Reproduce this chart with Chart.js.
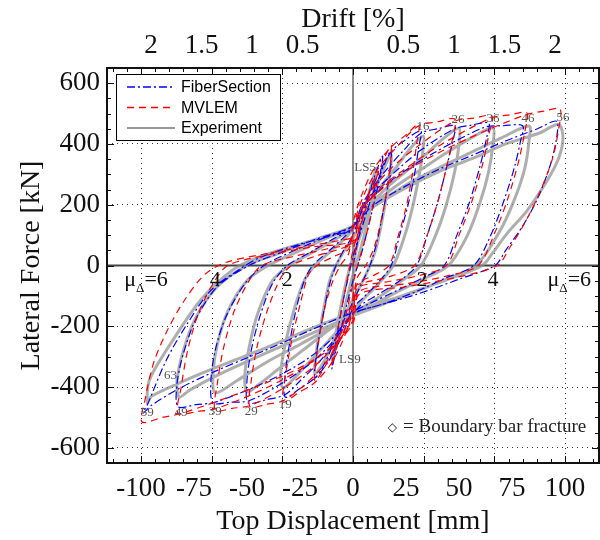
<!DOCTYPE html>
<html>
<head>
<meta charset="utf-8">
<script src="https://cdn.jsdelivr.net/npm/chart.js@4.4.0/dist/chart.umd.min.js"></script>
<style>
  html, body { margin: 0; padding: 0; background: #fff; }
</style>
</head>
<body>
<canvas id="hyst" width="600" height="540"></canvas>
<script>
// axis ticks
const dispTicks = [-100, -75, -50, -25, 0, 25, 50, 75, 100];
const forceTicks = [-600, -400, -200, 0, 200, 400, 600];
const driftTicks = [-2, -1.5, -1, -0.5, 0.5, 1, 1.5, 2];
const ductilityGrid = [-100, -66.7, -33.3, 33.3, 66.7, 100];
const mmPerDrift = 47.6;
const dispMin = -116, dispMax = 116;

// [displacement mm, force kN]
const experiment = [
  [0,0],[4,130],[8,250],[11,320],[9,220],[6,120],[3,40],[0,-30],[-4,-140],[-8,-260],[-10,-310],
  [-8,-220],[-5,-110],[-2,-20],[0,30],
  [4,110],[9,220],[14,310],[18,365],[17,280],[14,160],[11,60],[8,0],[4,-60],[0,-110],[-5,-180],
  [-10,-260],[-14,-320],[-18,-355],[-17,-270],[-14,-150],[-11,-50],[-8,0],[-4,50],[0,90],
  [5,160],[12,250],[20,320],[27,385],[33,426],[33,380],[31,290],[28,190],[24,90],[19,0],[12,-60],
  [5,-110],[0,-150],[-8,-220],[-17,-290],[-25,-350],[-33,-403],[-34,-350],[-32,-260],[-28,-150],
  [-23,-50],[-18,0],[-10,50],[-3,95],[0,120],
  [6,180],[15,250],[25,310],[35,370],[43,420],[50,452],[50,400],[48,310],[44,200],[39,100],[32,0],
  [22,-55],[12,-105],[3,-145],[-10,-205],[-22,-270],[-35,-340],[-45,-395],[-50,-416],[-51,-360],
  [-49,-270],[-45,-160],[-38,-50],[-30,0],[-20,40],[-10,80],[0,125],
  [8,190],[20,260],[33,320],[45,375],[57,425],[66,452],[66,400],[64,310],[60,210],[54,100],[45,0],
  [33,-45],[20,-90],[8,-135],[0,-165],[-12,-210],[-25,-260],[-40,-315],[-55,-380],[-65,-420],
  [-66,-360],[-64,-260],[-59,-150],[-50,-50],[-40,0],[-28,40],[-14,85],[0,130],
  [9,190],[25,265],[40,320],[55,370],[70,420],[83,459],[83,410],[81,320],[76,215],[69,110],[58,0],
  [44,-45],[30,-85],[15,-125],[0,-165],[-15,-210],[-30,-255],[-48,-310],[-65,-365],[-77,-410],
  [-82,-433],[-83,-380],[-80,-280],[-74,-170],[-64,-70],[-50,0],[-35,40],[-18,85],[0,130],
  [9,190],[25,256],[41,311],[57,354],[72,400],[88,436],[97,465],[99,420],[97,354],[91.5,279],
  [82,180],[72.6,105],[65.6,39],[61,0],[45,-45],[25,-95],[8,-135],[0,-155],[-19,-205],[-40,-268],
  [-64,-334],[-82,-387],[-95,-430],[-97,-452],[-96,-377],[-88,-279],[-72,-115],[-57,-16],
  [-45,26],[-25,70],[-2,115]
];

const fiberSection = [
  [0,0],[5,170],[10,290],[14,360],[12,270],[8,150],[4,40],[0,-50],[-4,-160],[-8,-280],[-10,-340],
  [-8,-250],[-5,-130],[-2,-30],[0,30],
  [4,120],[9,230],[14,320],[18,380],[17,290],[14,170],[11,70],[8,0],[4,-60],[0,-120],[-5,-190],
  [-10,-270],[-14,-330],[-18,-370],[-17,-280],[-14,-160],[-11,-60],[-8,0],[-4,55],[0,100],
  [5,200],[12,300],[18,375],[25,415],[32,443],[31,390],[29,300],[26,200],[22,100],[18,0],[12,-55],
  [5,-105],[0,-140],[-5,-230],[-12,-320],[-18,-370],[-25,-405],[-32,-433],[-32,-360],[-30,-260],
  [-27,-150],[-23,-50],[-19,0],[-11,50],[-4,95],[0,125],
  [5,210],[14,300],[24,380],[32,435],[40,450],[48,459],[47,410],[44,320],[40,210],[35,100],[30,0],
  [22,-50],[12,-95],[3,-135],[-6,-220],[-15,-310],[-25,-380],[-32,-425],[-41,-442],[-49.5,-452],
  [-50,-380],[-48,-280],[-44,-170],[-38,-60],[-31,0],[-21,40],[-10,85],[0,125],
  [6,210],[17,290],[32,380],[48,450],[56,462],[64,469],[63,420],[60,330],[55,210],[49,100],[43,0],
  [33,-40],[20,-85],[8,-125],[0,-155],[-7,-230],[-18,-310],[-33,-385],[-49,-445],[-58,-450],
  [-66,-452],[-67,-380],[-65,-280],[-60,-170],[-51,-60],[-42,0],[-29,45],[-14,90],[0,130],
  [7,210],[20,290],[38,370],[62,455],[71,460],[80,460],[79,410],[76,320],[71,210],[65,100],[57,0],
  [44,-40],[30,-85],[15,-125],[0,-160],[-9,-235],[-22,-310],[-40,-380],[-65,-450],[-74,-458],
  [-82.5,-465],[-83,-390],[-80,-290],[-74,-175],[-64,-70],[-49,0],[-35,40],[-18,85],[0,130],
  [9,195],[25,262],[41,318],[57,365],[72,410],[87,450],[96,475],[96,420],[93,330],[87,220],
  [80,130],[72,50],[67,0],[50,-45],[30,-95],[10,-135],[0,-155],[-19,-210],[-40,-275],
  [-64,-345],[-82,-405],[-95,-460],[-99,-486],[-97,-459],[-88,-311],[-78,-190],[-67,-82],
  [-53,-10],[-44,26],[-25,70],[0,115]
];

const mvlem = [
  [0,0],[3,120],[7,230],[12,311],[10,220],[7,120],[3,20],[0,-60],[-3,-150],[-7,-250],[-10,-330],
  [-8,-240],[-5,-130],[-2,-20],[0,50],
  [4,140],[9,250],[14,340],[18,395],[17,300],[14,170],[10,60],[6,0],[2,-40],[0,-110],[-3,-180],
  [-8,-260],[-13,-330],[-18,-380],[-17,-290],[-14,-160],[-10,-60],[-6,0],[-2,40],[0,140],
  [4,230],[10,320],[18,390],[25,430],[31,465],[30,400],[28,300],[25,190],[21,90],[17,0],[9,-35],
  [2,-60],[0,-150],[-5,-250],[-11,-330],[-18,-385],[-26,-420],[-33,-449],[-32,-370],[-29,-250],
  [-25,-130],[-21,-30],[-17,0],[-9,30],[-2,55],[1,150],
  [5,230],[12,320],[22,400],[31,460],[40,473],[48,482],[47,420],[44,320],[40,210],[35,100],[29,0],
  [18,-35],[6,-55],[1,-70],[-1,-160],[-6,-240],[-14,-330],[-24,-400],[-33,-445],[-41,-457],
  [-48.6,-465],[-48,-380],[-45,-260],[-40,-140],[-34,-40],[-29,0],[-18,30],[-6,55],[1,80],[2,160],
  [8,240],[18,320],[32,400],[48,475],[57,485],[65.5,492],[64,430],[61,330],[56,210],[50,100],[44,0],
  [30,-35],[15,-55],[2,-75],[0,-170],[-7,-250],[-18,-330],[-32,-400],[-48,-460],[-57,-470],
  [-65,-476],[-64,-390],[-61,-270],[-56,-150],[-49,-50],[-43,0],[-28,30],[-12,55],[1,80],[3,170],
  [12,250],[25,320],[42,400],[65,485],[74,496],[82,502],[81,440],[78,340],[73,220],[67,110],[59,0],
  [44,-35],[25,-60],[3,-85],[0,-180],[-9,-260],[-22,-330],[-40,-400],[-64,-470],[-73,-480],
  [-82.5,-486],[-81,-400],[-78,-280],[-73,-160],[-66,-60],[-59,0],[-40,35],[-20,60],[1,85],[4,180],
  [15,260],[32,340],[55,420],[81,495],[90,508],[97.6,515],[97,450],[94,350],[88,240],[81,140],
  [74,60],[68,0],[48,-40],[25,-70],[3,-95],[0,-190],[-10,-270],[-26,-340],[-46,-400],[-80,-485],
  [-90,-500],[-99.5,-515],[-98,-440],[-94,-320],[-88,-220],[-80,-120],[-70,-30],[-60,10],
  [-40,40],[-20,65],[0,90]
];

// load step labels [text, mm, kN]
const stepLabels = [
  ['LS5', 5.7, 321], ['LS9', -1.5, -311], ['16', 33, 456], ['26', 49.5, 479], ['36', 66, 482],
  ['46', 82.5, 485], ['56', 99, 488], ['63', -86, -361], ['59', -97, -485], ['49', -81, -485],
  ['39', -65, -482], ['29', -48, -482], ['19', -32, -459]
];
// ductility labels [value, mm]
const ductilityLabels = [['6', -97.6], ['4', -65], ['2', -31], ['2', 32.5], ['4', 66], ['6', 102]];
const legendOrder = ['FiberSection', 'MVLEM', 'Experiment'];

const serif = "'Liberation Serif', 'Times New Roman', serif";
const sans = "'Liberation Sans', Arial, sans-serif";
const toPts = arr => arr.map(([x, y]) => ({ x, y }));

const decor = {
  id: 'decor',
  beforeDatasetsDraw(chart) {
    const { ctx, chartArea: a, scales: { x, y } } = chart;
    ctx.save();
    ctx.strokeStyle = '#333';
    ctx.lineWidth = 1;
    ctx.setLineDash([1, 4]);
    ductilityGrid.forEach(v => {
      const px = Math.round(x.getPixelForValue(v)) + 0.5;
      ctx.beginPath(); ctx.moveTo(px, a.top); ctx.lineTo(px, a.bottom); ctx.stroke();
    });
    ctx.setLineDash([]);
    const x0 = x.getPixelForValue(0), y0 = y.getPixelForValue(0);
    ctx.lineWidth = 2;
    ctx.strokeStyle = '#8a8a8a';
    ctx.beginPath(); ctx.moveTo(x0, a.top); ctx.lineTo(x0, a.bottom); ctx.stroke();
    ctx.strokeStyle = '#444';
    ctx.beginPath(); ctx.moveTo(a.left, y0); ctx.lineTo(a.right, y0); ctx.stroke();
    ctx.restore();
  },
  afterDatasetsDraw(chart) {
    const { ctx, chartArea: a, scales: { x, y } } = chart;
    ctx.save();

    // step labels
    ctx.fillStyle = '#555';
    ctx.font = '13px ' + serif;
    ctx.textAlign = 'center';
    ctx.textBaseline = 'middle';
    stepLabels.forEach(([t, vx, vy]) => ctx.fillText(t, x.getPixelForValue(vx), y.getPixelForValue(vy)));

    // ductility labels
    ctx.fillStyle = '#111';
    ctx.textBaseline = 'alphabetic';
    const by = y.getPixelForValue(-69);
    ductilityLabels.forEach(([t, vx]) => {
      const cx = x.getPixelForValue(vx);
      ctx.font = '22px ' + serif;
      if (t !== '6') {
        ctx.textAlign = 'center';
        ctx.fillText(t, cx, by);
        return;
      }
      ctx.textAlign = 'left';
      const wMu = ctx.measureText('μ').width, wEq = ctx.measureText('=6').width;
      ctx.font = '13px ' + serif;
      const wD = ctx.measureText('Δ').width;
      const px = cx - (wMu + wD + wEq) / 2;
      ctx.font = '22px ' + serif;
      ctx.fillText('μ', px, by);
      ctx.font = '13px ' + serif;
      ctx.fillText('Δ', px + wMu, by + 6);
      ctx.font = '22px ' + serif;
      ctx.fillText('=6', px + wMu + wD, by);
    });

    // note
    ctx.font = '19px ' + serif;
    ctx.textAlign = 'right';
    ctx.textBaseline = 'middle';
    ctx.fillStyle = '#222';
    const nx = x.getPixelForValue(110), ny = y.getPixelForValue(-531);
    ctx.fillText('= Boundary bar fracture', nx, ny);
    const nw = ctx.measureText('= Boundary bar fracture').width;
    ctx.font = '12px DejaVu Sans';
    ctx.fillText('◇', nx - nw - 6, ny + 1);

    // minor / major ticks on the frame
    ctx.strokeStyle = '#111';
    ctx.lineWidth = 1;
    for (let k = -17; k <= 17; k++) {
      const px = Math.round(x.getPixelForValue(k * 100 / 15)) + 0.5;
      const len = k % 5 === 0 ? 7 : 4;
      ctx.beginPath();
      ctx.moveTo(px, a.bottom); ctx.lineTo(px, a.bottom - len);
      ctx.moveTo(px, a.top); ctx.lineTo(px, a.top + len);
      ctx.stroke();
    }
    for (let v = -650; v <= 650; v += 50) {
      const py = Math.round(y.getPixelForValue(v)) + 0.5;
      const len = v % 200 === 0 ? 7 : 4;
      ctx.beginPath();
      ctx.moveTo(a.left, py); ctx.lineTo(a.left + len, py);
      ctx.moveTo(a.right, py); ctx.lineTo(a.right - len, py);
      ctx.stroke();
    }

    // frame
    ctx.lineWidth = 2;
    ctx.strokeRect(a.left, a.top, a.right - a.left, a.bottom - a.top);

    // legend
    const lx = a.left + 9, ly = a.top + 6;
    ctx.fillStyle = '#fff';
    ctx.fillRect(lx, ly, 164, 66);
    ctx.lineWidth = 1;
    ctx.strokeStyle = '#000';
    ctx.strokeRect(lx + 0.5, ly + 0.5, 164, 66);
    ctx.font = '16px ' + sans;
    ctx.textAlign = 'left';
    ctx.textBaseline = 'middle';
    legendOrder.forEach((name, i) => {
      const ds = chart.data.datasets.find(d => d.label === name);
      const yy = ly + 13 + i * 20.5;
      ctx.strokeStyle = name === 'Experiment' ? '#777' : ds.borderColor;
      ctx.lineWidth = name === 'Experiment' ? 1.5 : 1.3;
      ctx.setLineDash(ds.borderDash || []);
      ctx.beginPath(); ctx.moveTo(lx + 11, yy); ctx.lineTo(lx + 59, yy); ctx.stroke();
      ctx.setLineDash([]);
      ctx.fillStyle = '#000';
      ctx.fillText(name, lx + 65, yy + 1);
    });
    ctx.restore();
  }
};

const common = { showLine: true, pointRadius: 0, fill: false, tension: 0.3 };

new Chart(document.getElementById('hyst'), {
  type: 'scatter',
  data: {
    datasets: [
      { ...common, label: 'MVLEM', data: toPts(mvlem), borderColor: '#ff0000', borderWidth: 1.2, borderDash: [7, 5], order: 1 },
      { ...common, label: 'FiberSection', data: toPts(fiberSection), borderColor: '#0000ff', borderWidth: 1.2, borderDash: [8, 3, 2, 3], order: 2 },
      { ...common, label: 'Experiment', data: toPts(experiment), borderColor: 'rgba(140,140,140,0.7)', borderWidth: 3, order: 3 }
    ]
  },
  options: {
    responsive: false,
    animation: false,
    layout: { padding: { right: 1, left: 0, top: 0, bottom: 0 } },
    plugins: { legend: { display: false }, tooltip: { enabled: false } },
    scales: {
      x: {
        type: 'linear', position: 'bottom', min: dispMin, max: dispMax,
        afterBuildTicks: s => { s.ticks = dispTicks.map(v => ({ value: v })); },
        afterFit: s => { s.height = 77; },
        grid: { display: false },
        border: { display: false },
        ticks: { font: { family: serif, size: 27 }, color: '#111', padding: 2, maxRotation: 0, autoSkip: false },
        title: { display: true, text: 'Top Displacement [mm]', font: { family: serif, size: 28 }, color: '#111', padding: { top: 0, bottom: 2 } }
      },
      drift: {
        type: 'linear', position: 'top', min: dispMin / mmPerDrift, max: dispMax / mmPerDrift,
        afterBuildTicks: s => { s.ticks = driftTicks.map(v => ({ value: v })); },
        afterFit: s => { s.height = 68; },
        grid: { display: false },
        border: { display: false },
        ticks: { font: { family: serif, size: 27 }, color: '#111', padding: -2, maxRotation: 0, autoSkip: false,
          callback: v => String(Math.abs(v)) },
        title: { display: true, text: 'Drift [%]', font: { family: serif, size: 28 }, color: '#111', padding: { top: 3, bottom: 0 } }
      },
      y: {
        type: 'linear', position: 'left', min: -650, max: 650,
        afterBuildTicks: s => { s.ticks = forceTicks.map(v => ({ value: v })); },
        afterFit: s => { s.width = 107; },
        grid: { color: ctx => ctx.tick && ctx.tick.value === 0 ? 'rgba(0,0,0,0)' : '#333', lineWidth: 1, drawTicks: false },
        border: { display: false, dash: [1, 4] },
        ticks: { font: { family: serif, size: 27 }, color: '#111', padding: 7 },
        title: { display: true, text: 'Lateral Force [kN]', font: { family: serif, size: 28 }, color: '#111', padding: { top: 15, bottom: 0 } }
      }
    }
  },
  plugins: [decor]
});
</script>
</body>
</html>
